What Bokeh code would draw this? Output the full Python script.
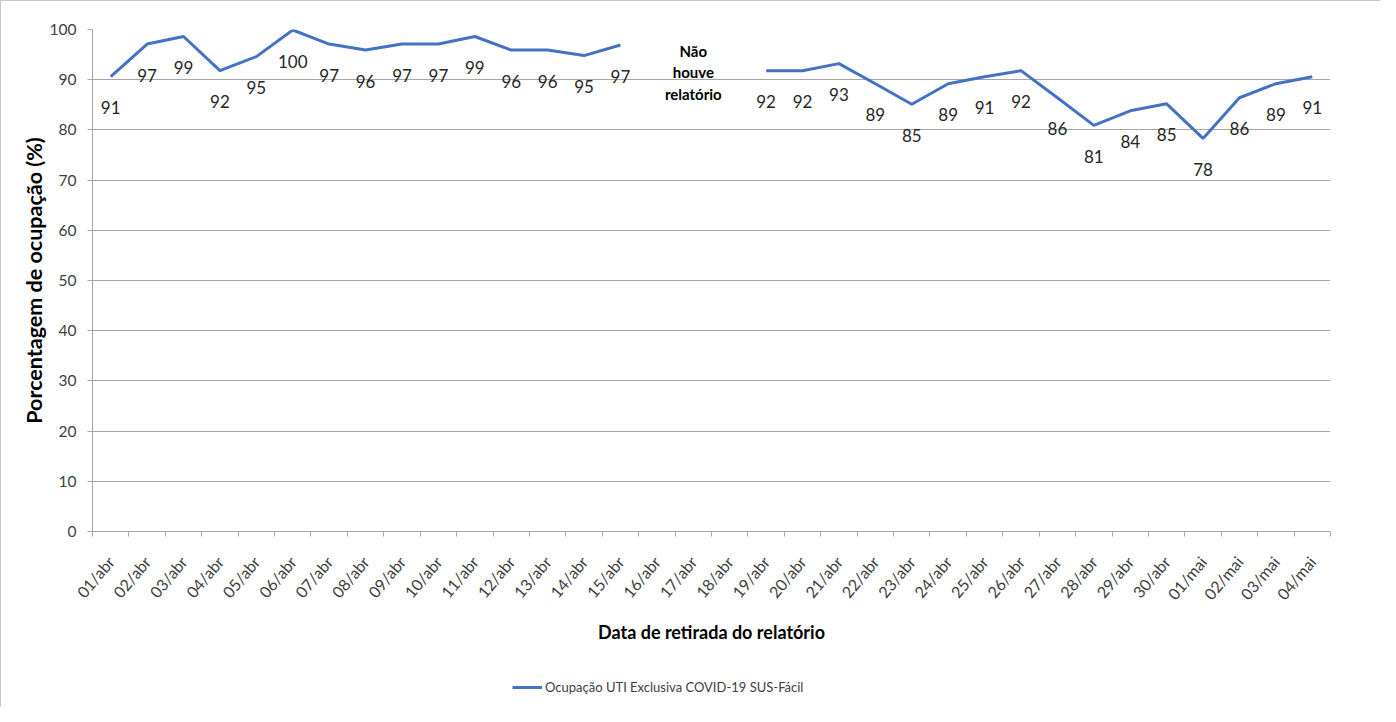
import math
from bokeh.plotting import figure
from bokeh.layouts import column
from bokeh.models import FixedTicker, Legend, LegendItem, Range1d, ColumnDataSource
from bokeh.core.properties import value
from bokeh.embed import file_html
from bokeh.resources import INLINE

dates = ["01/abr", "02/abr", "03/abr", "04/abr", "05/abr", "06/abr", "07/abr", "08/abr",
         "09/abr", "10/abr", "11/abr", "12/abr", "13/abr", "14/abr", "15/abr", "16/abr",
         "17/abr", "18/abr", "19/abr", "20/abr", "21/abr", "22/abr", "23/abr", "24/abr",
         "25/abr", "26/abr", "27/abr", "28/abr", "29/abr", "30/abr", "01/mai", "02/mai",
         "03/mai", "04/mai"]
nan = float("nan")
ocupacao = [90.6, 97.1, 98.6, 91.8, 94.6, 99.9, 97.1, 95.9, 97.1, 97.1, 98.6, 95.9,
            95.9, 94.8, 96.9, nan, nan, nan, 91.8, 91.8, 93.2, 89.2, 85.1, 89.2,
            90.6, 91.8, 86.4, 80.9, 83.8, 85.2, 78.3, 86.4, 89.2, 90.6]
rotulos = ["91", "97", "99", "92", "95", "100", "97", "96", "97", "97", "99", "96",
           "96", "95", "97", "", "", "", "92", "92", "93", "89", "85", "89",
           "91", "92", "86", "81", "84", "85", "78", "86", "89", "91"]
y_ticks = [0, 10, 20, 30, 40, 50, 60, 70, 80, 90, 100]
serie_nome = "Ocupação UTI Exclusiva COVID-19 SUS-Fácil"
nota = "Não\nhouve\nrelatório"
nota_data = "17/abr"

FONT = "Lato"
LINE_COLOR = "#4472C4"
GRAY = "#a6a6a6"
n = len(dates)
xs = [i + 0.5 for i in range(n)]

p = figure(width=1379, height=666, output_backend="svg", toolbar_location=None,
           x_range=Range1d(0, n), y_range=Range1d(0, 100),
           min_border_left=91, min_border_right=50, min_border_top=28, min_border_bottom=136)
p.outline_line_color = None
p.background_fill_color = "white"
p.border_fill_color = "white"

# grid
p.xgrid.visible = False
p.ygrid.ticker = FixedTicker(ticks=y_ticks)
p.ygrid.grid_line_color = GRAY
p.ygrid.grid_line_width = 1

# y axis
p.yaxis.ticker = FixedTicker(ticks=y_ticks)
p.yaxis.axis_line_color = GRAY
p.yaxis.major_tick_line_color = GRAY
p.yaxis.major_tick_out = 5
p.yaxis.major_tick_in = 0
p.yaxis.minor_tick_out = 0
p.yaxis.minor_tick_in = 0
p.yaxis.major_label_text_font = FONT
p.yaxis.major_label_text_font_size = "15.5px"
p.yaxis.major_label_text_color = "#404040"
p.yaxis.major_label_standoff = 11
p.yaxis.axis_label = "Porcentagem de ocupação (%)"
p.yaxis.axis_label_text_font = FONT
p.yaxis.axis_label_text_font_size = "21.5px"
p.yaxis.axis_label_text_font_style = "bold"
p.yaxis.axis_label_text_color = "black"
p.yaxis.axis_label_standoff = 0

# x axis
p.xaxis.ticker = FixedTicker(ticks=xs, minor_ticks=list(range(n + 1)))
p.xaxis.major_label_overrides = {x: d for x, d in zip(xs, dates)}
p.xaxis.major_label_orientation = math.radians(50)
p.xaxis.axis_line_color = GRAY
p.xaxis.major_tick_out = 0
p.xaxis.major_tick_in = 0
p.xaxis.minor_tick_out = 5
p.xaxis.minor_tick_in = 0
p.xaxis.minor_tick_line_color = GRAY
p.xaxis.major_label_text_font = FONT
p.xaxis.major_label_text_font_size = "16px"
p.xaxis.major_label_text_color = "#404040"
p.xaxis.major_label_standoff = 22
p.xaxis.axis_label = "Data de retirada do relatório"
p.xaxis.axis_label_text_font = FONT
p.xaxis.axis_label_text_font_size = "18px"
p.xaxis.axis_label_text_font_style = "bold"
p.xaxis.axis_label_text_color = "black"
p.xaxis.axis_label_standoff = 9

src = ColumnDataSource(dict(x=xs, y=ocupacao, lab=rotulos))
p.line("x", "y", source=src, line_color=LINE_COLOR, line_width=3)
p.text("x", "y", text="lab", source=src, text_align="center", text_baseline="middle",
       y_offset=31, text_font=value(FONT), text_font_size="17px", text_color="#262626")

p.text(x=[xs[dates.index(nota_data)]], y=[91.5], text=[nota], text_align="center",
       text_baseline="middle", text_font=value(FONT), text_font_size="15px",
       text_font_style="bold", text_color="black", text_line_height=1.2)

# legend strip below the chart
lg = figure(width=1379, height=40, output_backend="svg", toolbar_location=None,
            x_range=Range1d(0, 1), y_range=Range1d(0, 1),
            min_border_left=0, min_border_right=0, min_border_top=0, min_border_bottom=0)
lg.xaxis.visible = False
lg.yaxis.visible = False
lg.xgrid.visible = False
lg.ygrid.visible = False
lg.outline_line_color = None
ln_leg = lg.line(x=[-5, -4], y=[-5, -5], line_color=LINE_COLOR, line_width=3)
legend = Legend(items=[LegendItem(label=serie_nome, renderers=[ln_leg])],
                location=(420, 10), orientation="horizontal",
                border_line_color=None, background_fill_alpha=0,
                padding=0, margin=0, label_standoff=3, glyph_width=30,
                glyph_height=20, label_height=20,
                label_text_font=FONT, label_text_font_size="13px",
                label_text_color="#404040")
lg.add_layout(legend, "center")

layout = column(p, lg, spacing=0)
layout.styles = {"border-left": "1px solid #c8c8c8", "border-top": "1px solid #c8c8c8",
                 "background-color": "white"}

open("out.html", "w").write(file_html(layout, INLINE))
